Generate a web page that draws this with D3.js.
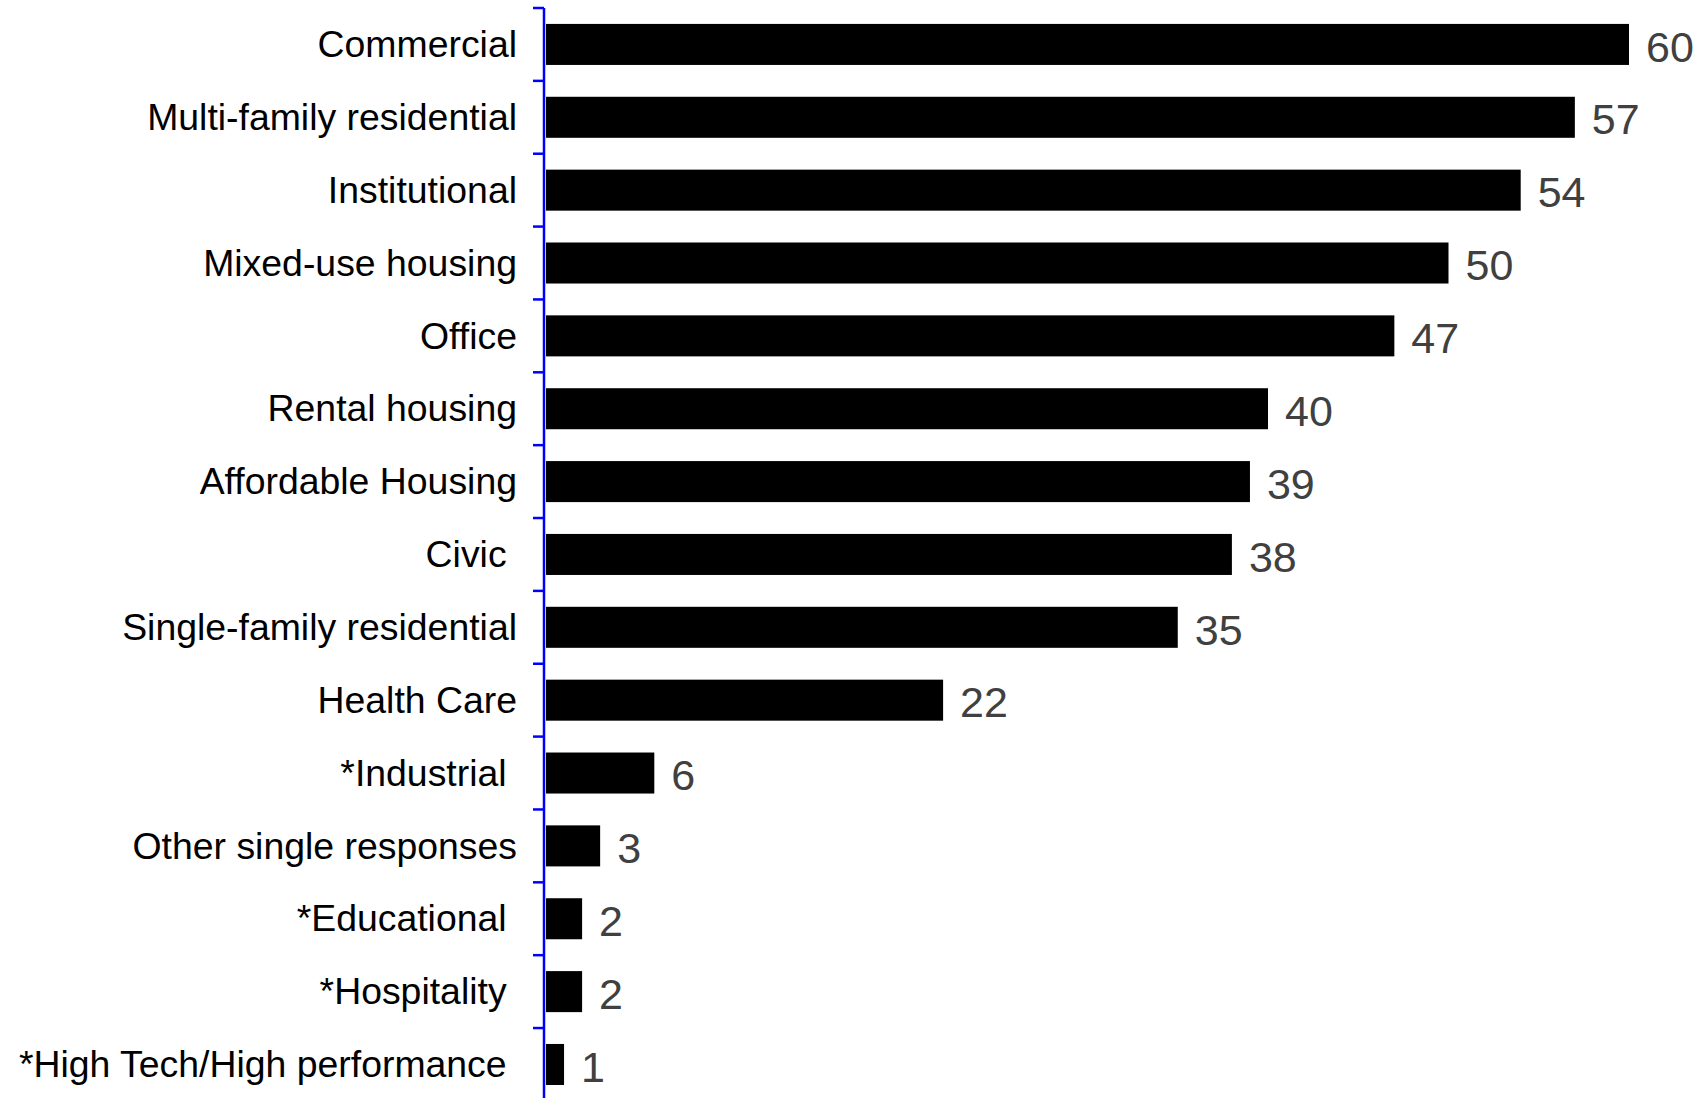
<!DOCTYPE html>
<html>
<head>
<meta charset="utf-8">
<script src="https://cdn.jsdelivr.net/npm/d3@7"></script>
<style>
  html, body { margin: 0; padding: 0; background: #fff; }
  svg { display: block; }
</style>
</head>
<body>
<div id="chart"></div>
<script>
// Building types, top to bottom
const categories = [
  "Commercial",
  "Multi-family residential",
  "Institutional",
  "Mixed-use housing",
  "Office",
  "Rental housing",
  "Affordable Housing",
  "Civic ",
  "Single-family residential",
  "Health Care",
  "*Industrial ",
  "Other single responses",
  "*Educational ",
  "*Hospitality ",
  "*High Tech/High performance "
];

// Number of responses per building type
const values = [60, 57, 54, 50, 47, 40, 39, 38, 35, 22, 6, 3, 2, 2, 1];

const width = 1701, height = 1098;
const axisX = 544;
const barX0 = 546;
const plotTop = 8, step = 72.86;

const svg = d3.select("#chart").append("svg")
  .attr("width", width)
  .attr("height", height);

const x = d3.scaleLinear().domain([0, 60]).range([barX0, 1629]);

const y = d3.scaleBand()
  .domain(categories)
  .range([plotTop, plotTop + step * categories.length])
  .paddingInner(0.437)
  .paddingOuter(0.2185);

const rows = categories.map((c, i) => ({ cat: c, value: values[i] }));

// Bars
svg.append("g").selectAll("rect")
  .data(rows)
  .join("rect")
  .attr("x", x(0))
  .attr("y", d => y(d.cat))
  .attr("width", d => x(d.value) - x(0))
  .attr("height", y.bandwidth())
  .attr("fill", "#000");

// Value labels
svg.append("g").selectAll("text")
  .data(rows)
  .join("text")
  .attr("x", d => x(d.value) + 17)
  .attr("y", d => y(d.cat) + y.bandwidth() / 2)
  .attr("dy", "0.40em")
  .attr("font-family", "Liberation Sans, Arial, sans-serif")
  .attr("font-size", 43)
  .attr("fill", "#404040")
  .text(d => d.value);

// Category axis: blue line with ticks between categories
const axisG = svg.append("g");
axisG.append("line")
  .attr("x1", axisX).attr("x2", axisX)
  .attr("y1", plotTop).attr("y2", height + 5)
  .attr("stroke", "#0000ff")
  .attr("stroke-width", 2.5);

const boundaries = d3.range(categories.length + 1).map(i => plotTop + step * i);
axisG.selectAll("line.tick")
  .data(boundaries)
  .join("line")
  .attr("class", "tick")
  .attr("x1", axisX - 11).attr("x2", axisX)
  .attr("y1", d => d).attr("y2", d => d)
  .attr("stroke", "#0000ff")
  .attr("stroke-width", 2.5);

// Category labels
axisG.selectAll("text")
  .data(rows)
  .join("text")
  .attr("x", 517)
  .attr("y", d => y(d.cat) + y.bandwidth() / 2)
  .attr("dy", "0.34em")
  .attr("text-anchor", "end")
  .attr("font-family", "Liberation Sans, Arial, sans-serif")
  .attr("font-size", 37.4)
  .attr("fill", "#000")
  .style("white-space", "pre")
  .text(d => d.cat);
</script>
</body>
</html>
